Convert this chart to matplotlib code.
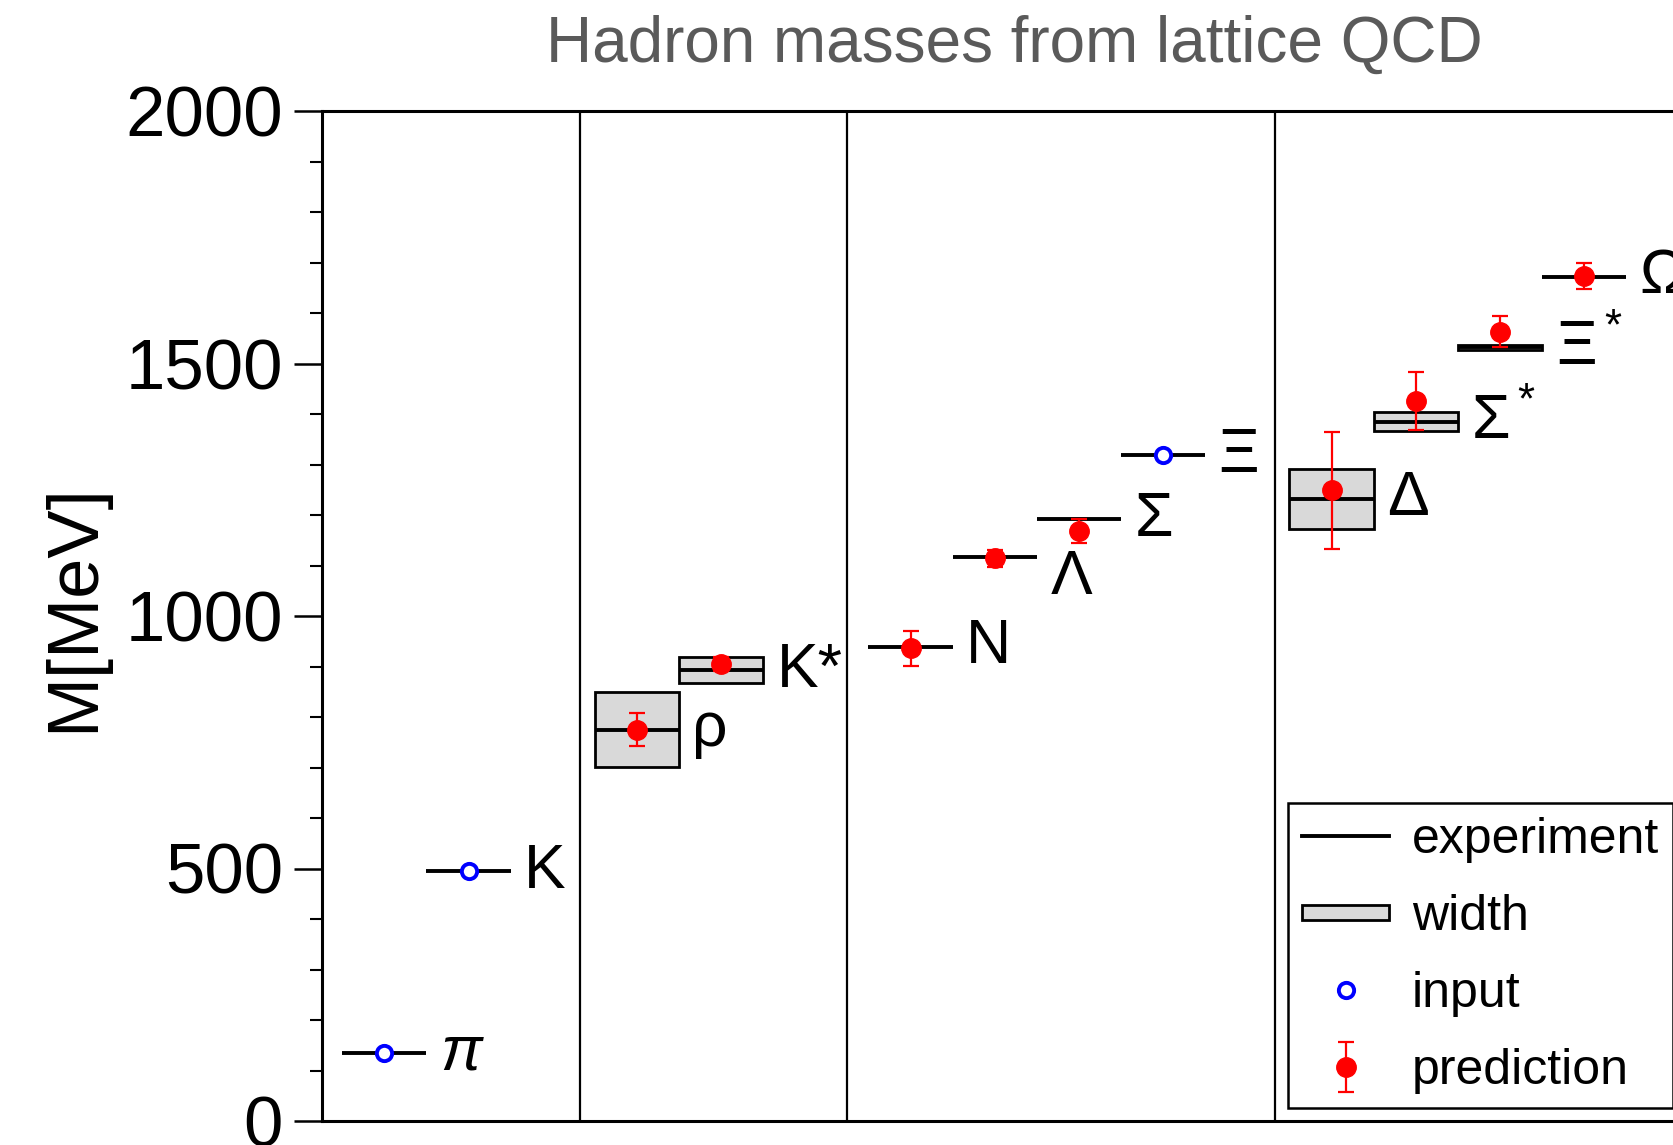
import numpy as np
import matplotlib
matplotlib.use("Agg")
import matplotlib.pyplot as plt
import matplotlib.patches as mpatches
from matplotlib.lines import Line2D
from matplotlib.legend_handler import HandlerPatch

plt.rcParams['font.family'] = ['Liberation Sans', 'DejaVu Sans']
plt.rcParams['mathtext.fontset'] = 'custom'
plt.rcParams['mathtext.rm'] = 'Liberation Sans'
plt.rcParams['mathtext.it'] = 'Liberation Sans:italic'

# hadrons, experimental masses [MeV]
names = ['π', 'K', 'ρ', 'K*', 'N', 'Λ', 'Σ', 'Ξ', 'Δ', 'Σ$^*$', 'Ξ$^*$', 'Ω']
xpos = [1.0, 2.0, 4.0, 5.0, 7.25, 8.25, 9.25, 10.25, 12.25, 13.25, 14.25, 15.25]
m_exp = [135, 495, 775, 893, 939, 1116, 1192, 1318, 1232, 1385, 1532, 1672]

# decay widths (half width) for the resonances
width_names = ['ρ', 'K*', 'Δ', 'Σ$^*$', 'Ξ$^*$']
half_width = [74, 25, 60, 19, 5]

# hadrons used as input
input_names = ['π', 'K', 'Ξ']

# lattice predictions with errors
pred_names = ['ρ', 'K*', 'N', 'Λ', 'Σ', 'Δ', 'Σ$^*$', 'Ξ$^*$', 'Ω']
m_pred = [775, 905, 936, 1114, 1169, 1249, 1426, 1563, 1674]
m_pred_err = [33, 14, 35, 16, 24, 116, 58, 31, 26]

# vertical separators between meson / octet / decuplet groups
dividers = [3.33, 6.5, 11.58]

W, H = 1674, 1145
fig = plt.figure(figsize=(W / 100, H / 100), dpi=100)
ax = fig.add_axes([322 / W, 24 / H, 1409.5 / W, 1010 / H])

pos = dict(zip(names, xpos))
mexp = dict(zip(names, m_exp))

for xd in dividers:
    ax.axvline(xd, color='black', lw=1.6, zorder=1)

# width boxes
for nm, hw in zip(width_names, half_width):
    ax.add_patch(mpatches.Rectangle((pos[nm] - 0.5, mexp[nm] - hw), 1.0, 2 * hw,
                                    facecolor='#d9d9d9', edgecolor='black',
                                    lw=2.0, zorder=2))

# experimental values
for nm, x, m in zip(names, xpos, m_exp):
    ax.plot([x - 0.5, x + 0.5], [m, m], color='black', lw=2.8, zorder=3,
            solid_capstyle='butt')

# inputs
ax.plot([pos[nm] for nm in input_names], [mexp[nm] for nm in input_names],
        'o', ms=11, mfc='white', mec='blue', mew=2.8, ls='none', zorder=5)

# predictions
pred = ax.errorbar([pos[nm] for nm in pred_names], m_pred, yerr=m_pred_err,
                   fmt='o', color='red', ms=14, elinewidth=1.6, capsize=6,
                   capthick=1.6, zorder=6)

# hadron labels
for nm, x, m in zip(names, xpos, m_exp):
    ytxt = m - 40 if nm == 'Λ' else m
    style = 'italic' if nm == 'π' else 'normal'
    ax.text(x + 0.66, ytxt, nm, fontsize=45, ha='left', va='center',
            style=style, zorder=7)

ax.set_xlim(0.26, 17.0)
ax.set_ylim(0, 2000)
ax.set_xticks([])
ax.set_yticks(np.arange(0, 2001, 500))
ax.set_yticks(np.arange(0, 2001, 100), minor=True)
ax.tick_params(axis='y', which='major', direction='out', length=20, width=1.8,
               labelsize=51, pad=8)
ax.tick_params(axis='y', which='minor', direction='out', length=9, width=1.5)
for sp in ax.spines.values():
    sp.set_linewidth(2.2)


def thin_box(legend, orig_handle, xdescent, ydescent, width, height, fontsize):
    return mpatches.Rectangle((-xdescent, -ydescent + 0.28 * height), width,
                              0.44 * height)


h_exp = Line2D([], [], color='black', lw=2.8)
h_wid = mpatches.Patch(facecolor='#d9d9d9', edgecolor='black', lw=2.0)
h_inp = Line2D([], [], marker='o', ls='none', ms=11, mfc='white', mec='blue',
               mew=2.8)
leg = ax.legend([h_exp, h_wid, h_inp, pred],
                ['experiment', 'width', 'input', 'prediction'],
                handler_map={h_wid: HandlerPatch(patch_func=thin_box)},
                loc='upper left', bbox_to_anchor=(1288 / W, 1 - 803 / H),
                bbox_transform=fig.transFigure, fontsize=36, frameon=True,
                fancybox=False, edgecolor='black', framealpha=1,
                handlelength=1.75, handletextpad=0.45, labelspacing=0.62,
                borderpad=0.28, borderaxespad=0)
leg.get_frame().set_linewidth(1.8)

fig.text(75 / W, 1 - 608 / H, 'M[MeV]', rotation=90, fontsize=52,
         ha='center', va='center')
fig.text(1014 / W, 1 - 45 / H, 'Hadron masses from lattice QCD',
         fontsize=46, color='#5a5a5a', ha='center', va='center')

fig.savefig('out.png', dpi=100)
